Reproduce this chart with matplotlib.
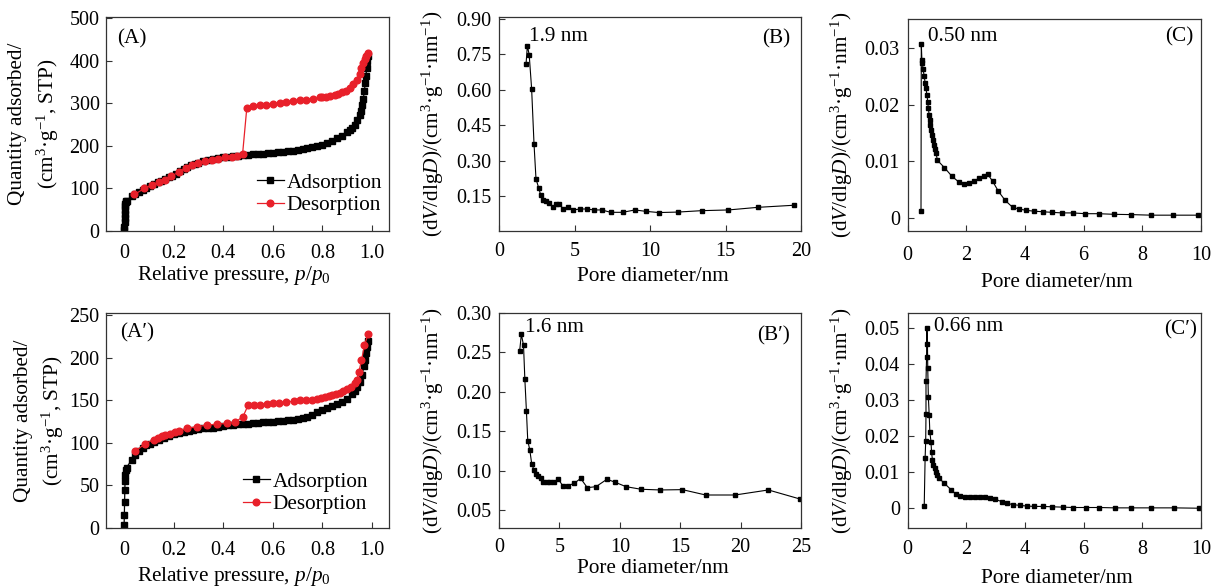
import matplotlib
matplotlib.use("Agg")
import matplotlib.pyplot as plt

plt.rcParams['font.family'] = ['Liberation Serif', 'DejaVu Serif']
plt.rcParams['mathtext.fontset'] = 'custom'
plt.rcParams['mathtext.rm'] = 'Liberation Serif'
plt.rcParams['mathtext.it'] = 'Liberation Serif:italic'
plt.rcParams['mathtext.bf'] = 'Liberation Serif:bold'

# ---------------- data ----------------
# (A) isotherm
A_ads_p = [0.000, 0.001, 0.002, 0.002, 0.003, 0.003, 0.004, 0.005, 0.006, 0.008, 0.010, 0.031, 0.045, 0.06,
           0.075, 0.09, 0.105, 0.12, 0.135, 0.15, 0.165, 0.18, 0.195, 0.21, 0.225, 0.24, 0.255, 0.27, 0.285,
           0.30, 0.32, 0.34, 0.36, 0.38, 0.40, 0.42, 0.44, 0.46, 0.48, 0.50, 0.52, 0.54, 0.56, 0.58, 0.60,
           0.62, 0.64, 0.66, 0.68, 0.70, 0.72, 0.74, 0.76, 0.78, 0.80, 0.82, 0.84, 0.86, 0.88, 0.90, 0.91,
           0.92, 0.93, 0.94, 0.95, 0.955, 0.96, 0.965, 0.97, 0.973, 0.976, 0.979, 0.982, 0.986]
A_ads_q = [2, 10, 20, 30, 40, 50, 58, 64, 68, 70, 71, 82, 88, 92,
           97, 101, 105, 110, 114, 118, 122, 126, 130, 135, 140, 145, 150, 154, 158,
           161, 164, 167, 169, 171, 173, 175, 176, 177, 178, 179, 180, 181, 182, 183, 184,
           185, 186, 187, 188, 190, 192, 194, 197, 200, 203, 207, 212, 218, 224, 232, 237,
           243, 250, 260, 272, 282, 295, 310, 330, 348, 365, 382, 400, 412]
A_des_p = [0.985, 0.978, 0.972, 0.965, 0.958, 0.95, 0.94, 0.925, 0.91, 0.895, 0.88, 0.865, 0.85, 0.83,
           0.815, 0.80, 0.79, 0.763, 0.736, 0.709, 0.682, 0.655, 0.628, 0.601, 0.574, 0.547, 0.52, 0.495,
           0.478, 0.454, 0.434, 0.407, 0.38, 0.353, 0.327, 0.30, 0.273, 0.249, 0.22, 0.19, 0.165, 0.142,
           0.114, 0.082, 0.042]
A_des_q = [419, 412, 405, 395, 382, 368, 355, 345, 336, 330, 326, 323, 320, 318,
           316, 315, 314, 311, 309, 307, 305, 303, 301, 299, 297, 295, 293, 288,
           180, 177, 175, 173, 170, 168, 164, 161, 156, 149, 138, 129, 120, 116,
           108, 100, 86]

# (A') isotherm
Ap_ads_p = [0.000, 0.001, 0.002, 0.003, 0.004, 0.005, 0.007, 0.010, 0.030, 0.045, 0.06, 0.075, 0.09, 0.105,
            0.12, 0.14, 0.16, 0.18, 0.20, 0.22, 0.24, 0.26, 0.28, 0.30, 0.32, 0.34, 0.36, 0.38, 0.40,
            0.42, 0.44, 0.46, 0.48, 0.50, 0.52, 0.54, 0.56, 0.58, 0.60, 0.62, 0.64, 0.66, 0.68, 0.70,
            0.72, 0.74, 0.76, 0.78, 0.80, 0.82, 0.84, 0.86, 0.88, 0.90, 0.92, 0.93, 0.94, 0.95, 0.96,
            0.968, 0.974, 0.978, 0.981, 0.984]
Ap_ads_q = [3, 15, 30, 45, 55, 62, 68, 71, 80, 86, 90, 94, 97, 99,
            101, 104, 106, 108, 110, 111.5, 113, 114, 115, 116, 117, 117.5, 118, 119, 120,
            120.5, 121, 122, 122, 122.5, 123, 123.5, 124, 124.5, 125, 125.5, 126, 126.5, 127, 128,
            129, 131, 133, 136, 139, 141, 143, 146, 148, 152, 157, 161, 166, 172, 180,
            190, 198, 206, 213, 220]
Ap_des_p = [0.985, 0.97, 0.958, 0.947, 0.94, 0.93, 0.915, 0.90, 0.885, 0.87, 0.855, 0.84, 0.825, 0.81,
            0.795, 0.78, 0.76, 0.735, 0.71, 0.685, 0.655, 0.625, 0.60, 0.575, 0.55, 0.525, 0.50, 0.48,
            0.446, 0.414, 0.374, 0.333, 0.293, 0.253, 0.22, 0.206, 0.185, 0.165, 0.152, 0.135, 0.121,
            0.085, 0.044]
Ap_des_q = [228, 215, 197, 183, 174, 170, 166, 163, 161, 159, 157, 156, 155, 154,
            153, 152, 151, 150.5, 150, 149, 148, 147, 146.5, 146, 145, 145, 144, 131,
            124, 123, 122, 121, 119, 117, 114, 113, 111, 109, 108, 106, 104,
            99, 90]

# (B) pore size distribution
B_d = [1.79, 1.88, 2.0, 2.16, 2.32, 2.45, 2.63, 2.76, 2.94, 3.11, 3.33, 3.56, 3.77, 4.0, 4.26, 4.59,
       4.92, 5.36, 5.81, 6.29, 6.8, 7.4, 8.19, 9.0, 9.74, 10.58, 11.83, 13.42, 15.19, 17.13, 19.56]
B_v = [0.708, 0.786, 0.747, 0.604, 0.369, 0.222, 0.184, 0.154, 0.135, 0.130, 0.121, 0.105, 0.116, 0.116,
       0.095, 0.105, 0.091, 0.095, 0.095, 0.091, 0.091, 0.081, 0.081, 0.091, 0.085, 0.080, 0.082, 0.088,
       0.091, 0.102, 0.111]

# (B') pore size distribution
Bp_d = [1.71, 1.85, 2.03, 2.14, 2.27, 2.38, 2.55, 2.71, 2.9, 3.04, 3.26, 3.45, 3.67, 3.95, 4.22, 4.58,
        4.91, 5.27, 5.69, 6.23, 6.76, 7.31, 8.03, 8.94, 9.63, 10.51, 11.75, 13.33, 15.18, 17.11, 19.54,
        22.3, 24.92]
Bp_v = [0.2517, 0.273, 0.259, 0.216, 0.1755, 0.138, 0.126, 0.1083, 0.1006, 0.0956, 0.0934, 0.090, 0.0858,
        0.0858, 0.086, 0.085, 0.0892, 0.0807, 0.0807, 0.0837, 0.090, 0.0782, 0.0795, 0.0889, 0.085, 0.0795,
        0.0762, 0.0753, 0.0757, 0.0689, 0.0689, 0.0753, 0.0638]

# (C) pore size distribution
C_d = [0.46, 0.47, 0.49, 0.51, 0.53, 0.57, 0.60, 0.63, 0.66, 0.69, 0.71, 0.74, 0.76, 0.78, 0.81, 0.83,
       0.86, 0.90, 0.93, 0.97, 1.02, 1.26, 1.51, 1.74, 1.91, 2.08, 2.25, 2.42, 2.59, 2.74, 2.9, 3.1,
       3.33, 3.58, 3.79, 4.05, 4.32, 4.62, 4.92, 5.26, 5.63, 6.06, 6.51, 7.05, 7.62, 8.3, 9.05, 9.9]
C_v = [0.0013, 0.0308, 0.0280, 0.0274, 0.0263, 0.0251, 0.0239, 0.0230, 0.0218, 0.0206, 0.0194, 0.0182,
       0.0173, 0.0164, 0.0156, 0.0147, 0.0138, 0.0129, 0.0122, 0.0115, 0.0102, 0.0089, 0.0074, 0.0064,
       0.0061, 0.0062, 0.0065, 0.0070, 0.0075, 0.0077, 0.0065, 0.0047, 0.0031, 0.0019, 0.0016, 0.00135,
       0.0012, 0.0011, 0.0010, 0.0009, 0.0009, 0.00076, 0.00076, 0.00065, 0.0006, 0.0005, 0.0005, 0.0005]

# (C') pore size distribution
Cp_d = [0.57, 0.60, 0.62, 0.63, 0.63, 0.65, 0.66, 0.68, 0.69, 0.71, 0.74, 0.76, 0.80, 0.82, 0.85, 0.88,
        0.92, 0.97, 1.02, 1.08, 1.26, 1.49, 1.65, 1.80, 1.97, 2.14, 2.31, 2.48, 2.65, 2.82, 2.99, 3.22,
        3.39, 3.58, 3.82, 4.07, 4.32, 4.62, 4.93, 5.29, 5.65, 6.07, 6.52, 7.06, 7.63, 8.31, 9.09, 9.94]
Cp_v = [0.0007, 0.0139, 0.0187, 0.0261, 0.0354, 0.0421, 0.0500, 0.0458, 0.0389, 0.0310, 0.0259, 0.0213,
        0.0185, 0.0156, 0.0134, 0.0120, 0.0111, 0.0102, 0.0093, 0.0083, 0.0069, 0.0051, 0.0039, 0.0034,
        0.0031, 0.0031, 0.0031, 0.0030, 0.0030, 0.0029, 0.0025, 0.0018, 0.0014, 0.0010, 0.0008, 0.0006,
        0.0005, 0.0005, 0.0004, 0.0003, 0.0002, 0.0002, 0.0002, 0.0001, 0.0001, 0.0001, 0.0001, 0.0]

# tick labels
A_yticks = [0, 100, 200, 300, 400, 500]
Ap_yticks = [0, 50, 100, 150, 200, 250]
p_xticks = [0, 0.2, 0.4, 0.6, 0.8, 1.0]
B_yticks = [0.15, 0.30, 0.45, 0.60, 0.75, 0.90]
Bp_yticks = [0.05, 0.10, 0.15, 0.20, 0.25, 0.30]
B_xticks = [0, 5, 10, 15, 20]
Bp_xticks = [0, 5, 10, 15, 20, 25]
C_yticks = [0, 0.01, 0.02, 0.03]
Cp_yticks = [0, 0.01, 0.02, 0.03, 0.04, 0.05]
C_xticks = [0, 2, 4, 6, 8, 10]

# ---------------- figure ----------------
W, H = 1213, 588
fig = plt.figure(figsize=(W / 100, H / 100), dpi=100)


def rect(l, t, r, b):
    return [l / W, 1 - b / H, (r - l) / W, (b - t) / H]


RED = '#e8202a'
TICK_FS = 14.5
LAB_FS = 15.3


def style(ax, xpad=8.5, ypad=4.5):
    for s in ax.spines.values():
        s.set_linewidth(0.9)
        s.set_color('#333333')
    ax.tick_params(direction='in', length=4, width=0.8, labelsize=TICK_FS, color='#333333')
    ax.tick_params(axis='x', pad=xpad)
    ax.tick_params(axis='y', pad=ypad)


ylab_iso = 'Quantity adsorbed/\n(cm$^{3}$·g$^{-1}$, STP)'
xlab_iso = 'Relative pressure, $p$/$p_{0}$'
ylab_psd = '(d$V$/dlg$D$)/(cm$^{3}$·g$^{-1}$·nm$^{-1}$)'
xlab_psd = 'Pore diameter/nm'


def iso_panel(r, ads_p, ads_q, des_p, des_q, yticks, ylim, tag, leg_xy, ylab_x, xlab_y, xpad):
    ax = fig.add_axes(r)
    ax.plot(ads_p, ads_q, '-s', color='black', ms=3.8, lw=0.9, label='Adsorption')
    ax.plot(des_p, des_q, '-o', color=RED, ms=4.8, lw=0.9, label='Desorption')
    ax.set_xlim(-0.073, 1.069)
    ax.set_ylim(*ylim)
    ax.set_xticks(p_xticks)
    ax.set_xticklabels(['0', '0.2', '0.4', '0.6', '0.8', '1.0'])
    ax.set_yticks(yticks)
    ax.set_yticklabels([str(v) for v in yticks])
    style(ax, xpad=xpad)
    ax.set_ylabel(ylab_iso, fontsize=LAB_FS, linespacing=1.4)
    ax.yaxis.set_label_coords(ylab_x, 0.5)
    ax.set_xlabel(xlab_iso, fontsize=LAB_FS)
    ax.xaxis.set_label_coords(0.45, xlab_y)
    ax.text(tag[1], tag[2], tag[0], transform=ax.transAxes, fontsize=LAB_FS, va='baseline', ha='left')
    ax.legend(loc='upper left', bbox_to_anchor=leg_xy, frameon=False, fontsize=LAB_FS,
              handlelength=1.25, handletextpad=0.15, labelspacing=0.12, borderpad=0,
              borderaxespad=0, numpoints=1)
    return ax


def psd_panel(r, d, v, xlim, ylim, xticks, yticks, ytl, tag, peak, ylab_x, xlab_y, xpad):
    ax = fig.add_axes(r)
    ax.plot(d, v, '-s', color='black', ms=3.4, lw=0.8)
    ax.set_xlim(*xlim)
    ax.set_ylim(*ylim)
    ax.set_xticks(xticks)
    ax.set_xticklabels([str(t) for t in xticks])
    ax.set_yticks(yticks)
    ax.set_yticklabels(ytl)
    style(ax, xpad=xpad, ypad=5.5)
    ax.set_ylabel(ylab_psd, fontsize=LAB_FS)
    ax.yaxis.set_label_coords(ylab_x, 0.5)
    ax.set_xlabel(xlab_psd, fontsize=LAB_FS)
    ax.xaxis.set_label_coords(0.51, xlab_y)
    ax.text(tag[1], tag[2], tag[0], transform=ax.transAxes, fontsize=LAB_FS, va='baseline', ha='right')
    ax.text(peak[1], peak[2], peak[0], transform=ax.transAxes, fontsize=LAB_FS, va='baseline', ha='left')
    return ax


# top row
iso_panel(rect(106, 17, 389, 231), A_ads_p, A_ads_q, A_des_p, A_des_q, A_yticks, (0, 503),
          ('(A)', 0.039, 0.874), (0.534, 0.272), -0.16, -0.155, 9.5)
psd_panel(rect(499, 17, 801, 231), B_d, B_v, (0, 20), (0.002, 0.907), B_xticks, B_yticks,
          ['%.2f' % t for t in B_yticks], ('(B)', 0.964, 0.874), ('1.9 nm', 0.1, 0.888),
          -0.175, -0.17, 8)
psd_panel(rect(907.5, 19, 1201, 231), C_d, C_v, (0, 10), (-0.0023, 0.0352), C_xticks, C_yticks,
          ['0', '0.01', '0.02', '0.03'], ('(C)', 0.974, 0.893), ('0.50 nm', 0.071, 0.896),
          -0.178, -0.2, 11)

# bottom row
iso_panel(rect(106, 313, 389, 528), Ap_ads_p, Ap_ads_q, Ap_des_p, Ap_des_q, Ap_yticks, (0, 252.7),
          ('(A\u2032)', 0.049, 0.888), (0.484, 0.262), -0.14, -0.17, 9.5)
psd_panel(rect(499, 313, 801, 528), Bp_d, Bp_v, (0, 25), (0.027, 0.30), Bp_xticks, Bp_yticks,
          ['%.2f' % t for t in Bp_yticks], ('(B\u2032)', 0.964, 0.874), ('1.6 nm', 0.086, 0.913),
          -0.175, -0.145, 7)
psd_panel(rect(907.5, 313, 1201, 528), Cp_d, Cp_v, (0, 10), (-0.0055, 0.0543), C_xticks, Cp_yticks,
          ['0', '0.01', '0.02', '0.03', '0.04', '0.05'], ('(C\u2032)', 0.985, 0.898),
          ('0.66 nm', 0.09, 0.917), -0.178, -0.19, 9)

fig.savefig('out.png', dpi=100)
